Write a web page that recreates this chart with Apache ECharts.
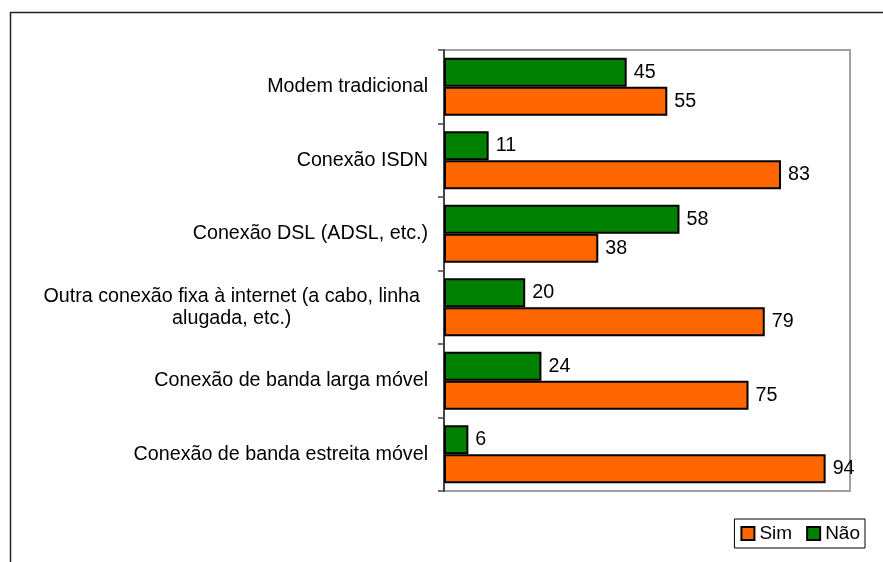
<!DOCTYPE html>
<html>
<head>
<meta charset="utf-8">
<script src="https://cdn.jsdelivr.net/npm/echarts@6/dist/echarts.min.js"></script>
<style>
  html, body { margin: 0; padding: 0; background: #fff; }
  #chart { width: 883px; height: 562px; }
</style>
</head>
<body>
<div id="chart"></div>
<script>
// categories, top to bottom
const categories = [
  "Modem tradicional",
  "Conexão ISDN",
  "Conexão DSL (ADSL, etc.)",
  "Outra conexão fixa à internet (a cabo, linha alugada, etc.)",
  "Conexão de banda larga móvel",
  "Conexão de banda estreita móvel"
];
const simValues = [55, 83, 38, 79, 75, 94];
const naoValues = [45, 11, 58, 20, 24, 6];
const seriesNames = ["Sim", "Não"];

const font = "'Liberation Sans', Arial, sans-serif";
const fs = 19.7;

const chart = echarts.init(document.getElementById("chart"));

const option = {
  animation: false,
  backgroundColor: "#fff",
  textStyle: { fontFamily: font },
  graphic: [
    {
      type: "rect",
      shape: { x: 10.5, y: 12.5, width: 1000, height: 1000 },
      style: { fill: "none", stroke: "#222", lineWidth: 1.5 },
      silent: true
    }
  ],
  grid: {
    left: 444,
    top: 50,
    right: 33,
    bottom: 71,
    show: true,
    borderColor: "#a0a0a0",
    borderWidth: 2
  },
  legend: {
    data: seriesNames,
    right: 18,
    bottom: 14,
    orient: "horizontal",
    icon: "rect",
    itemWidth: 13,
    itemHeight: 13,
    itemGap: 14,
    borderColor: "#000",
    borderWidth: 1,
    borderRadius: 0,
    padding: [5, 5, 5, 6],
    textStyle: { fontFamily: font, fontSize: 19, color: "#000" }
  },
  xAxis: {
    type: "value",
    min: 0,
    max: 100,
    show: false
  },
  yAxis: {
    type: "category",
    inverse: true,
    data: categories,
    axisLine: { show: true, lineStyle: { color: "#444", width: 2 } },
    axisTick: { show: true, length: 6, lineStyle: { color: "#444", width: 1.5 } },
    axisLabel: {
      margin: 16,
      color: "#000",
      fontFamily: font,
      fontSize: fs,
      lineHeight: 22,
      formatter: function (val) {
        if (val.length > 40) {
          const cut = val.indexOf("alugada");
          return "{a|" + val.slice(0, cut).trim() + "}\n{b|" + val.slice(cut) + "}";
        }
        return val;
      },
      rich: {
        a: { fontFamily: font, fontSize: fs, lineHeight: 22, color: "#000", padding: [0, 8, 0, 0] },
        b: { fontFamily: font, fontSize: fs, lineHeight: 22, color: "#000", width: 376, align: "center", padding: [0, 8, 0, 0] }
      }
    }
  },
  series: [
    {
      name: "Não",
      type: "bar",
      data: naoValues,
      barGap: "0%",
      barCategoryGap: "21%",
      itemStyle: { color: "#008000", borderColor: "#000", borderWidth: 2 },
      label: {
        show: true,
        position: "right",
        distance: 7,
        color: "#000",
        fontFamily: font,
        fontSize: fs
      }
    },
    {
      name: "Sim",
      type: "bar",
      data: simValues,
      barGap: "0%",
      barCategoryGap: "21%",
      itemStyle: { color: "#FF6600", borderColor: "#000", borderWidth: 2 },
      label: {
        show: true,
        position: "right",
        distance: 7,
        color: "#000",
        fontFamily: font,
        fontSize: fs
      }
    }
  ]
};

chart.setOption(option);
</script>
</body>
</html>
